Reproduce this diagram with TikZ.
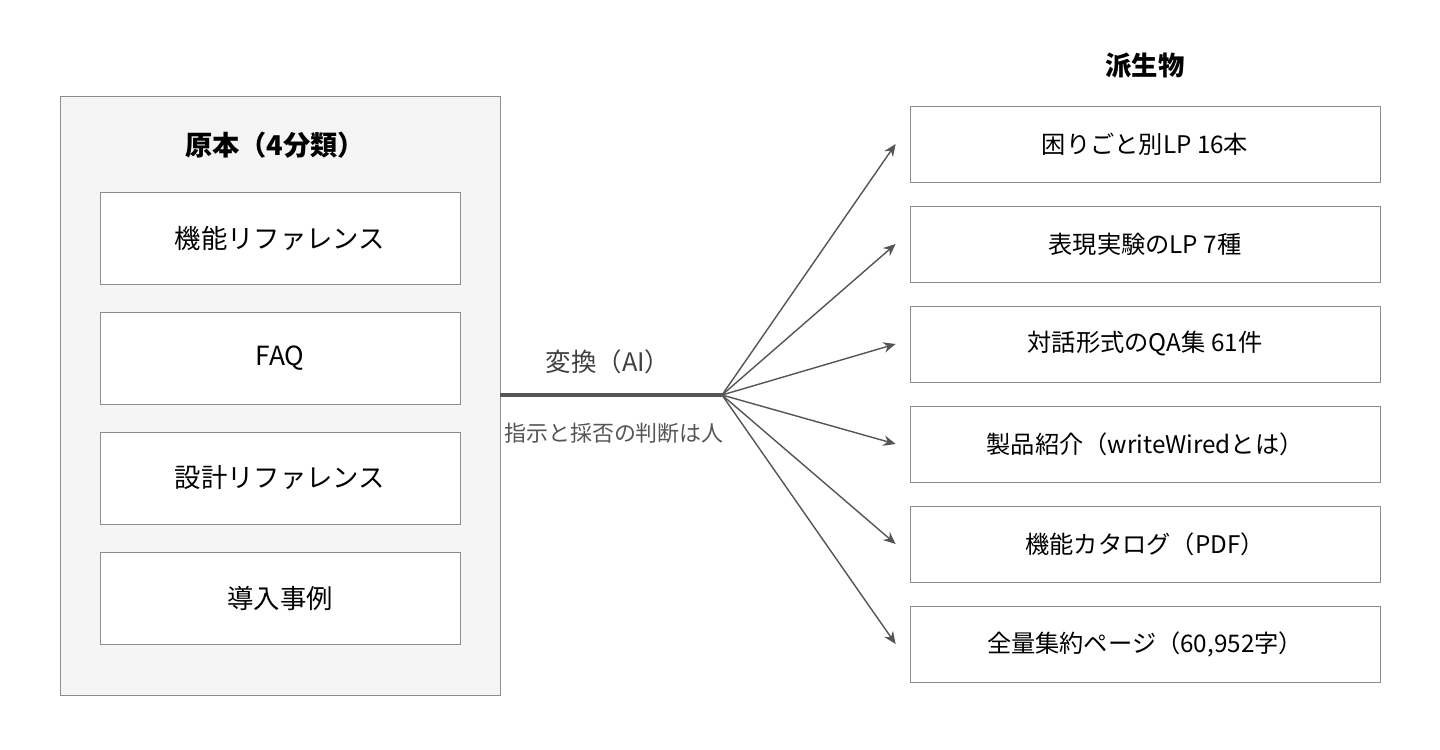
\documentclass[tikz,border=0pt]{standalone}
\usepackage{fontspec}
\setmainfont{Noto Sans CJK JP}
\usetikzlibrary{arrows.meta}
\definecolor{boxline}{HTML}{8C8C8C}
\definecolor{panel}{HTML}{F5F5F5}
\definecolor{wire}{HTML}{555555}
\tikzset{
  src/.style={draw=boxline, fill=white, minimum width=7.2cm, minimum height=1.84cm, font=\fontsize{15}{18}\selectfont},
  derived/.style={draw=boxline, fill=white, minimum width=9.4cm, minimum height=1.52cm, font=\fontsize{13.8}{16}\selectfont},
  flow/.style={draw=wire, line width=0.8pt, -{Stealth[length=7pt,width=6pt]}}
}
\begin{document}
\begin{tikzpicture}[x=0.02cm,y=-0.02cm]
  \useasboundingbox (0,0) rectangle (1440,750);
  % left panel
  \draw[draw=boxline, fill=panel] (60,96) rectangle (500,695);
  \node[font=\fontsize{15.5}{18}\selectfont\bfseries] (orig) at (275,145) {原本（4分類）};
  \node[src] (s1) at (280,238) {機能リファレンス};
  \node[src] (s2) at (280,358) {FAQ};
  \node[src] (s3) at (280,478) {設計リファレンス};
  \node[src] (s4) at (280,598) {導入事例};

  % right column
  \node[font=\fontsize{15}{18}\selectfont\bfseries] (deriv) at (1145,66) {派生物};
  \node[derived] (d1) at (1145,144) {困りごと別LP 16本};
  \node[derived] (d2) at (1145,244) {表現実験のLP 7種};
  \node[derived] (d3) at (1145,344) {対話形式のQA集 61件};
  \node[derived] (d4) at (1145,444) {製品紹介（writeWiredとは）};
  \node[derived] (d5) at (1145,544) {機能カタログ（PDF）};
  \node[derived] (d6) at (1145,644) {全量集約ページ（60,952字）};

  % transform
  \coordinate (src) at (500,395);
  \coordinate (hub) at (722,395);
  \draw[draw=wire, line width=2pt] (src) -- (hub);
  \node[font=\fontsize{14.5}{17}\selectfont, text=black!75] (conv) at (608,362) {変換（AI）};
  \node[font=\fontsize{12.5}{15}\selectfont, text=wire] (human) at (614,433) {指示と採否の判断は人};
  \foreach \i in {1,...,6}
    \draw[flow] (hub) -- ([xshift=-8pt]d\i.west);
\end{tikzpicture}
\end{document}
